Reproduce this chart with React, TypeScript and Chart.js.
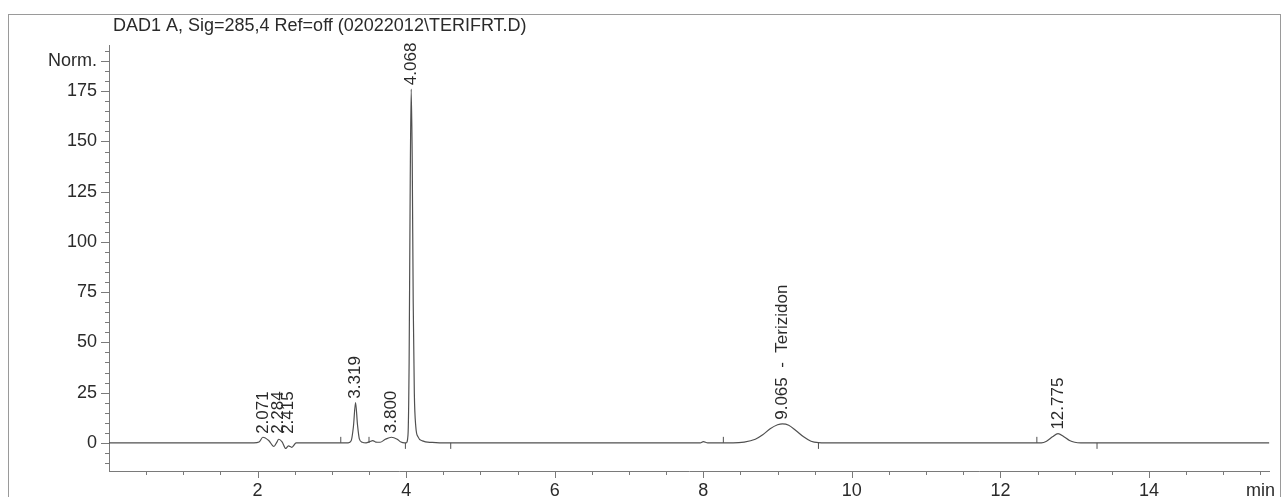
import React, { useEffect, useRef } from "react";
import { Chart, registerables } from "chart.js";

Chart.register(...registerables);

// ---- data ----
const traceTimes = [
  0, 1.95, 2.02, 2.071, 2.15, 2.22, 2.26, 2.284, 2.33, 2.38, 2.415, 2.46, 2.52,
  3.0, 3.22, 3.26, 3.29, 3.319, 3.345, 3.37, 3.41, 3.46, 3.51, 3.55, 3.59, 3.65,
  3.72, 3.8, 3.88, 3.93, 3.98, 4.0, 4.025, 4.04, 4.055, 4.068, 4.082, 4.095, 4.11,
  4.13, 4.16, 4.22, 4.35, 4.45, 7.9, 7.96, 8.0, 8.06, 8.4, 8.55, 8.7, 8.8, 8.9,
  9.0, 9.065, 9.15, 9.25, 9.35, 9.45, 9.55, 9.65, 12.55, 12.62, 12.7, 12.775,
  12.85, 12.93, 13.0, 13.08, 15.62,
];
const traceValues = [
  0, 0, 0.4, 2.8, 1.2, -1.8, 0.4, 1.8, 0.5, -2.8, -1.5, -2.2, 0,
  0, 0, 1.0, 8, 20, 9, 2, 0.3, 0, 0.6, 1.1, 0.4, 0.3,
  1.8, 2.8, 1.8, 0.4, 0, 0, 4, 40, 130, 176, 140, 70, 25,
  8, 3, 1, 0.2, 0, 0, 0, 0.6, 0, 0, 0.4, 1.8, 4, 7,
  9, 9.5, 8.8, 6, 3, 0.8, 0.1, 0, 0, 0.8, 3, 4.6,
  3.2, 1.2, 0.3, 0, 0,
];

const peakLabelTimes = [2.071, 2.284, 2.415, 3.319, 3.8, 4.068, 9.065, 12.775];
const peakLabelTexts = ["2.071", "2.284", "2.415", "3.319", "3.800", "4.068", "9.065  -  Terizidon", "12.775"];
const peakLabelHeights = [2.5, 2.5, 2.5, 20, 2.8, 176, 9.5, 4.6];

const startMarkerTimes = [3.12, 3.5, 8.27, 12.49];
const endMarkerTimes = [3.99, 4.6, 9.55, 13.3];

const yMajorTicks = [0, 25, 50, 75, 100, 125, 150, 175, 190];
const yTickLabels = ["0", "25", "50", "75", "100", "125", "150", "175", "Norm."];
const xMajorTicks = [2, 4, 6, 8, 10, 12, 14, 15.5];
const xTickLabels = ["2", "4", "6", "8", "10", "12", "14", "min"];

const titleText = "DAD1 A, Sig=285,4 Ref=off (02022012\\TERIFRT.D)";

const AXIS = "#7a7a7a";
const TEXT = "#2a2a2a";
const TRACE = "#505050";
const FONT = "'Liberation Sans', Arial, sans-serif";

const decorPlugin = {
  id: "decor",
  afterDraw(chart: any) {
    const { ctx } = chart;
    const xs = chart.scales.x;
    const ys = chart.scales.y;
    ctx.save();
    // title
    ctx.fillStyle = TEXT;
    ctx.font = `18px ${FONT}`;
    ctx.textAlign = "left";
    ctx.textBaseline = "middle";
    ctx.fillText(titleText, 113, 26);

    // y ticks
    ctx.strokeStyle = AXIS;
    ctx.lineWidth = 1;
    ctx.beginPath();
    for (let v = -10; v <= 195; v += 5) {
      const y = Math.round(ys.getPixelForValue(v)) + 0.5;
      const major = yMajorTicks.includes(v);
      const len = major ? 8 : 4;
      ctx.moveTo(xs.left - len, y);
      ctx.lineTo(xs.left, y);
    }
    // x ticks
    for (let t = 0.5; t <= 15.5; t += 0.5) {
      const x = Math.round(xs.getPixelForValue(t)) + 0.5;
      const major = xMajorTicks.includes(t) && t !== 15.5;
      const len = major ? 7 : 4;
      ctx.moveTo(x, ys.bottom);
      ctx.lineTo(x, ys.bottom + len);
    }
    ctx.stroke();

    // peak labels
    ctx.fillStyle = TEXT;
    ctx.font = `17px ${FONT}`;
    ctx.textAlign = "left";
    ctx.textBaseline = "middle";
    peakLabelTimes.forEach((t, i) => {
      const x = xs.getPixelForValue(t);
      const y = ys.getPixelForValue(peakLabelHeights[i]) - 4;
      ctx.save();
      ctx.translate(x, y);
      ctx.rotate(-Math.PI / 2);
      ctx.fillText(peakLabelTexts[i], 0, 0);
      ctx.restore();
    });
    ctx.restore();
  },
};

export default function App() {
  const ref = useRef<HTMLCanvasElement>(null);
  useEffect(() => {
    if (!ref.current) return;
    const chart = new Chart(ref.current, {
      type: "line",
      data: {
        datasets: [
          {
            data: traceTimes.map((t, i) => ({ x: t, y: traceValues[i] })),
            borderColor: TRACE,
            borderWidth: 1.2,
            pointRadius: 0,
            cubicInterpolationMode: "monotone",
            fill: false,
          },
          {
            type: "scatter",
            data: startMarkerTimes.map((t) => ({ x: t, y: 1.5 })),
            pointStyle: "line",
            rotation: 90,
            radius: 3,
            borderColor: TRACE,
            borderWidth: 1,
          } as any,
          {
            type: "scatter",
            data: endMarkerTimes.map((t) => ({ x: t, y: -1.5 })),
            pointStyle: "line",
            rotation: 90,
            radius: 3,
            borderColor: TRACE,
            borderWidth: 1,
          } as any,
        ],
      },
      options: {
        animation: false,
        responsive: false,
        maintainAspectRatio: false,
        layout: { padding: { top: 45, right: 6, left: 0, bottom: 0 } },
        plugins: { legend: { display: false }, tooltip: { enabled: false }, title: { display: false } },
        scales: {
          x: {
            type: "linear",
            min: 0,
            max: 15.62,
            grid: { display: false, drawTicks: false },
            border: { display: true, color: AXIS, width: 1 },
            afterBuildTicks: (scale: any) => {
              scale.ticks = xMajorTicks.map((v) => ({ value: v }));
            },
            afterFit: (scale: any) => {
              scale.height = 26;
            },
            ticks: {
              autoSkip: false,
              maxRotation: 0,
              padding: 9,
              color: TEXT,
              font: { family: FONT, size: 18 },
              callback: (_v: any, i: number) => xTickLabels[i],
            },
          },
          y: {
            type: "linear",
            min: -14,
            max: 198,
            grid: { display: false, drawTicks: false },
            border: { display: true, color: AXIS, width: 1 },
            afterBuildTicks: (scale: any) => {
              scale.ticks = yMajorTicks.map((v) => ({ value: v }));
            },
            afterFit: (scale: any) => {
              scale.width = 109;
            },
            ticks: {
              autoSkip: false,
              padding: 12,
              color: TEXT,
              font: { family: FONT, size: 18 },
              callback: (_v: any, i: number) => yTickLabels[i],
            },
          },
        },
      },
      plugins: [decorPlugin],
    });
    return () => chart.destroy();
  }, []);

  return (
    <div style={{ position: "fixed", left: 0, top: 0, width: 1284, height: 497, background: "#ffffff", overflow: "hidden" }}>
      <div
        style={{
          position: "absolute",
          left: 8,
          top: 14,
          width: 1273,
          height: 520,
          border: "1px solid #9a9a9a",
          boxSizing: "border-box",
        }}
      />
      <canvas ref={ref} width={1284} height={497} style={{ position: "absolute", left: 0, top: 0, width: 1284, height: 497 }} />
    </div>
  );
}
